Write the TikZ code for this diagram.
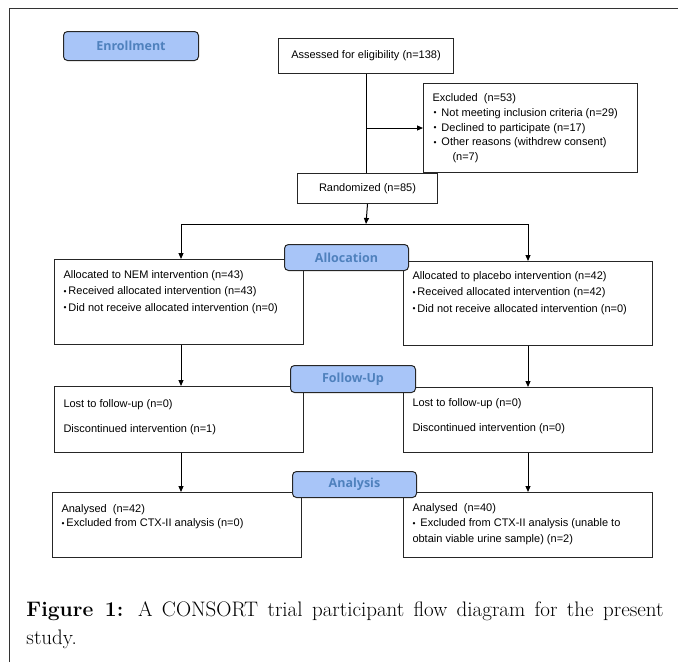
\documentclass[tikz,border=0pt]{standalone}
\usepackage{fontspec}
\newfontfamily\arialfont{Liberation Sans}
\newfontfamily\stagefont{Open Sans}
\usetikzlibrary{arrows.meta}
\newcommand{\bul}{\raisebox{0.6pt}{\fontsize{8.5}{8.5}\selectfont\textbullet}}

\begin{document}
\begin{tikzpicture}[x=1pt, y=-1pt, >={Triangle[length=6pt,width=5pt]}, line width=1pt,
  box/.style={draw=black!85, anchor=north west, inner sep=0pt},
  stage/.style={draw=black!85, rounded corners=4pt, fill=stagefill, text=stagetext,
    font=\stagefont\bfseries\fontsize{12.5}{12.5}\selectfont, anchor=north west, inner sep=0pt},
  boxtext/.style={anchor=north west, inner sep=0pt, align=left,
    font=\arialfont\fontsize{11}{16.5}\selectfont}]
  % colours
  \definecolor{stagefill}{RGB}{168,197,248}
  \definecolor{stagetext}{RGB}{79,129,189}

  \useasboundingbox (0,0) rectangle (678,662);

  % frame
  \draw[black!80] (9,662) -- (9,8) -- (678,8);

  % columns of the two arms
  \coordinate (L) at (181,0);
  \coordinate (R) at (528,0);
  \coordinate (split) at (366,224);

  % enrollment
  \node[box, minimum width=175pt, minimum height=35pt, font=\arialfont\fontsize{11}{11}\selectfont]
    (assessed) at (278,38) {Assessed for eligibility (n=138)};
  \node[box, minimum width=214pt, minimum height=89pt] (excluded) at (423,83) {};
  \node[boxtext, font=\arialfont\fontsize{11}{14.8}\selectfont] (excludedtxt) at (432,93)
    {Excluded\ \ (n=53)\\
     \hspace*{1pt}\bul\hspace{5pt}Not meeting inclusion criteria (n=29)\\
     \hspace*{1pt}\bul\hspace{5pt}Declined to participate (n=17)\\
     \hspace*{1pt}\bul\hspace{5pt}Other reasons (withdrew consent)\\
     \hspace*{20pt}(n=7)};
  \node[box, minimum width=140pt, minimum height=30pt, font=\arialfont\fontsize{11}{11}\selectfont]
    (randomized) at (297,173) {Randomized (n=85)};

  \draw (assessed.south) -- (assessed.south |- randomized.north);
  \draw[->] (excluded.west -| assessed.south) -- (excluded.west);
  \draw[->] (randomized.south) -- (split);

  % allocation
  \node[box, minimum width=249pt, minimum height=85pt] (nemalloc) at (54,259) {};
  \node[boxtext] (nemalloctxt) at (63,270)
    {Allocated to NEM intervention (n=43)\\
     \bul\hspace{2pt}Received allocated intervention (n=43)\\
     \bul\hspace{2pt}Did not receive allocated intervention (n=0)};
  \node[box, minimum width=249pt, minimum height=84pt] (plcalloc) at (403,261) {};
  \node[boxtext] (plcalloctxt) at (412,271)
    {Allocated to placebo intervention (n=42)\\
     \bul\hspace{2pt}Received allocated intervention (n=42)\\
     \bul\hspace{2pt}Did not receive allocated intervention (n=0)};

  \draw[->] (split) -| (L |- nemalloc.north);
  \draw[->] (split) -| (R |- plcalloc.north);

  % follow-up
  \node[box, minimum width=249pt, minimum height=66pt] (nemfollow) at (54,386) {};
  \node[boxtext, font=\arialfont\fontsize{11}{25}\selectfont] (nemfollowtxt) at (63,399)
    {Lost to follow-up (n=0)\\Discontinued intervention (n=1)};
  \node[box, minimum width=249pt, minimum height=65pt] (plcfollow) at (403,387) {};
  \node[boxtext, font=\arialfont\fontsize{11}{25}\selectfont] (plcfollowtxt) at (412,398)
    {Lost to follow-up (n=0)\\Discontinued intervention (n=0)};

  \draw[->] (L |- nemalloc.south) -- (L |- nemfollow.north);
  \draw[->] (R |- plcalloc.south) -- (R |- plcfollow.north);

  % analysis
  \node[box, minimum width=249pt, minimum height=65pt] (nemanal) at (52,492) {};
  \node[boxtext, font=\arialfont\fontsize{11}{14.5}\selectfont] (nemanaltxt) at (61,504)
    {Analysed\ \ (n=42)\\
     \bul\hspace{2pt}Excluded from CTX-II analysis (n=0)};
  \node[box, minimum width=249pt, minimum height=65pt] (plcanal) at (403,492) {};
  \node[boxtext, font=\arialfont\fontsize{11}{15.5}\selectfont] (plcanaltxt) at (412,503)
    {Analysed\ \ (n=40)\\
     \bul\hspace{5pt}Excluded from CTX-II analysis (unable to\\
     obtain viable urine sample) (n=2)};

  \draw[->] (L |- nemfollow.south) -- (L |- nemanal.north);
  \draw[->] (R |- plcfollow.south) -- (R |- plcanal.north);

  % stage labels
  \node[stage, minimum width=135pt, minimum height=29pt] (enrol) at (63,31) {Enrollment};
  \node[stage, minimum width=124pt, minimum height=26pt] (allocation) at (284,244) {Allocation};
  \node[stage, minimum width=125pt, minimum height=27pt] (followup) at (290,365) {Follow-Up};
  \node[stage, minimum width=124pt, minimum height=26pt] (analysis) at (292,471) {Analysis};

  % caption
  \node[anchor=north west, inner sep=0pt, align=left, font=\fontsize{21}{28}\selectfont]
    (caption) at (26,601)
    {\makebox[637pt][s]{\textbf{Figure 1:} A CONSORT trial participant flow diagram for the present}\\
     study.};
\end{tikzpicture}
\end{document}
